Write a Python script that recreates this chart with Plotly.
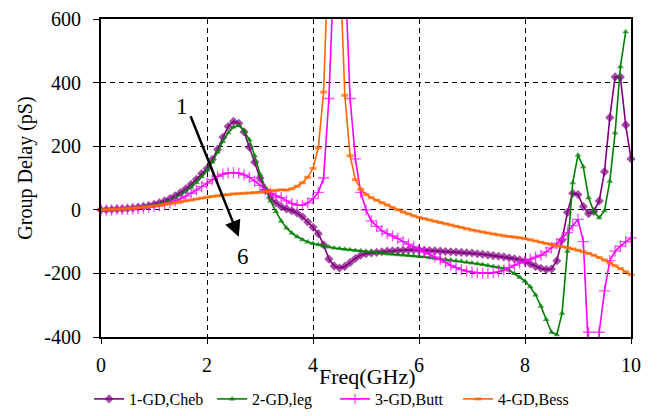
import plotly.graph_objects as go

FREQ = [round(i * 0.1, 1) for i in range(101)]

GD_CHEB = [0, 0, 1, 2, 3, 4, 6, 8, 10, 13,
           17, 22, 28, 35, 44, 54, 66, 80, 96, 114,
           130, 158, 190, 228, 262, 278, 272, 245, 197, 150,
           100, 62, 38, 22, 10, 3, -3, -10, -22, -38,
           -55, -75, -110, -155, -177, -183, -178, -166, -153, -143,
           -138, -136, -134, -132, -130, -129, -128, -127, -126, -126,
           -126, -127, -128, -129, -130, -131, -132, -133, -134, -135,
           -136, -138, -140, -142, -144, -146, -148, -151, -154, -157,
           -162, -170, -178, -184, -188, -186, -160, -95, -8, 52,
           48, 10, -12, -5, 28, 120, 290, 418, 418, 267,
           160]

GD_LEG = [0, 0, 1, 1, 2, 3, 5, 7, 9, 12,
          15, 19, 24, 30, 38, 47, 58, 71, 86, 104,
          125, 150, 182, 215, 242, 260, 265, 248, 220, 170,
          112, 70, 28, -5, -35, -57, -73, -85, -94, -101,
          -106, -110, -114, -117, -120, -122, -124, -126, -128, -129,
          -131, -132, -134, -136, -138, -140, -141, -142, -144, -145,
          -147, -148, -150, -152, -154, -156, -158, -160, -162, -165,
          -167, -170, -172, -175, -178, -181, -184, -190, -200, -212,
          -225, -242, -268, -303, -345, -385, -393, -325, -130, 85,
          172, 135, 38, -6, -25, -3, 90, 242, 450, 560,
          None]

GD_BUTT = [0, 0, 0, 1, 1, 2, 3, 4, 6, 8,
           10, 13, 17, 22, 28, 35, 43, 52, 62, 73,
           84, 95, 105, 112, 116, 117, 115, 110, 102, 90,
           77, 63, 52, 44, 38, 28, 20, 15, 14, 22,
           35, 55, 100, 350, 780, 2500, 770, 350, 160, 55,
           0, -35, -52, -66, -75, -82, -90, -100, -108, -116,
           -125, -132, -140, -148, -156, -165, -175, -182, -188, -193,
           -196, -198, -199, -199, -198, -195, -190, -182, -174, -167,
           -162, -155, -149, -143, -132, -120, -106, -92, -72, -50,
           -30, -100, -385, -800, -385, -255, -160, -130, -114, -100,
           -88]

GD_BESS = [0, 0, 1, 2, 3, 4, 5, 7, 8, 10,
           12, 14, 17, 19, 22, 25, 28, 31, 34, 37,
           40, 42, 44, 46, 48, 50, 51, 52, 53, 54,
           55, 57, 59, 61, 63, 62, 66, 74, 85, 102,
           130, 195, 370, 850, 3000, 820, 360, 170, 95, 65,
           48, 38, 30, 22, 15, 7, 0, -7, -13, -19,
           -24, -28, -32, -36, -40, -44, -48, -52, -56, -60,
           -64, -67, -70, -73, -76, -79, -82, -84, -86, -88,
           -91, -94, -98, -102, -106, -110, -113, -116, -119, -123,
           -127, -132, -137, -143, -150, -158, -167, -176, -185, -195,
           -204]

SERIES = ["1-GD,Cheb", "2-GD,leg", "3-GD,Butt", "4-GD,Bess"]
X_TICKS = [0, 2, 4, 6, 8, 10]
Y_TICKS = [-400, -200, 0, 200, 400, 600]
YMIN, YMAX = -400, 600

FONT = "Liberation Serif"


def sizes(vals, s):
    return [s if (v is not None and YMIN - 5 <= v <= YMAX) else 0 for v in vals]


styles = [
    (GD_CHEB, "#800080", dict(symbol="diamond", size=7)),
    (GD_LEG, "#008000", dict(symbol="triangle-up", size=6)),
    (GD_BUTT, "#FF00FF", dict(symbol="cross-thin", size=8)),
    (GD_BESS, "#FF6600", dict(symbol="line-ew", size=5)),
]

fig = go.Figure()
for name, (vals, color, mk) in zip(SERIES, styles):
    thin = mk["symbol"] in ("cross-thin", "line-ew")
    marker = dict(symbol=mk["symbol"], size=sizes(vals, mk["size"]), color=color,
                  line=dict(width=(1.3 if mk["symbol"] == "cross-thin" else 3) if thin else 0,
                            color=color))
    fig.add_trace(go.Scatter(
        x=FREQ, y=vals, name=name, mode="lines+markers",
        line=dict(color=color, width=1.6), marker=marker,
        cliponaxis=False, connectgaps=False,
    ))

fig.update_layout(
    width=657, height=416,
    margin=dict(l=101, r=26, t=19, b=79, autoexpand=False),
    paper_bgcolor="white", plot_bgcolor="white",
    font=dict(family=FONT, size=20, color="black"),
    showlegend=True,
    legend=dict(orientation="h", xref="container", x=0.51, xanchor="center",
                yref="container", y=-0.03, yanchor="bottom",
                font=dict(family=FONT, size=16), entrywidth=78,
                bgcolor="rgba(0,0,0,0)", itemwidth=30, tracegroupgap=0,
                borderwidth=0),
)

fig.update_xaxes(
    range=[0, 10], tickvals=X_TICKS, ticktext=[str(v) for v in X_TICKS],
    showgrid=True, gridcolor="black", gridwidth=1, griddash="5px,4px",
    showline=True, linecolor="black", linewidth=2, mirror=True,
    ticks="outside", ticklen=5, tickcolor="black", tickwidth=1,
    ticklabelstandoff=4, zeroline=False,
    tickfont=dict(family=FONT, size=20),
)
fig.update_yaxes(
    range=[YMIN, YMAX], tickvals=Y_TICKS, ticktext=[str(v) for v in Y_TICKS],
    showgrid=True, gridcolor="black", gridwidth=1, griddash="5px,4px",
    showline=True, linecolor="black", linewidth=2, mirror=True,
    ticks="outside", ticklen=6, tickcolor="black", tickwidth=1,
    ticklabelstandoff=8, zeroline=False,
    tickfont=dict(family=FONT, size=20),
)

# axis titles
fig.add_annotation(text="Freq(GHz)", xref="paper", yref="paper", x=0.502, y=-0.124,
                   showarrow=False, font=dict(family=FONT, size=22),
                   xanchor="center", yanchor="middle")
fig.add_annotation(text="Group Delay (pS)", xref="paper", yref="paper", x=-0.143, y=0.53,
                   showarrow=False, textangle=-90, font=dict(family=FONT, size=20),
                   xanchor="center", yanchor="middle")

# arrow 1 -> 6
fig.add_annotation(x=2.60, y=-85, ax=1.68, ay=299, xref="x", yref="y", axref="x", ayref="y",
                   showarrow=True, arrowhead=2, arrowsize=1.3, arrowwidth=2.5,
                   arrowcolor="black", text="")
fig.add_annotation(text="1", x=1.53, y=324, xref="x", yref="y", showarrow=False,
                   font=dict(family=FONT, size=23))
fig.add_annotation(text="6", x=2.68, y=-148, xref="x", yref="y", showarrow=False,
                   font=dict(family=FONT, size=23))

fig.write_html("out.html")
